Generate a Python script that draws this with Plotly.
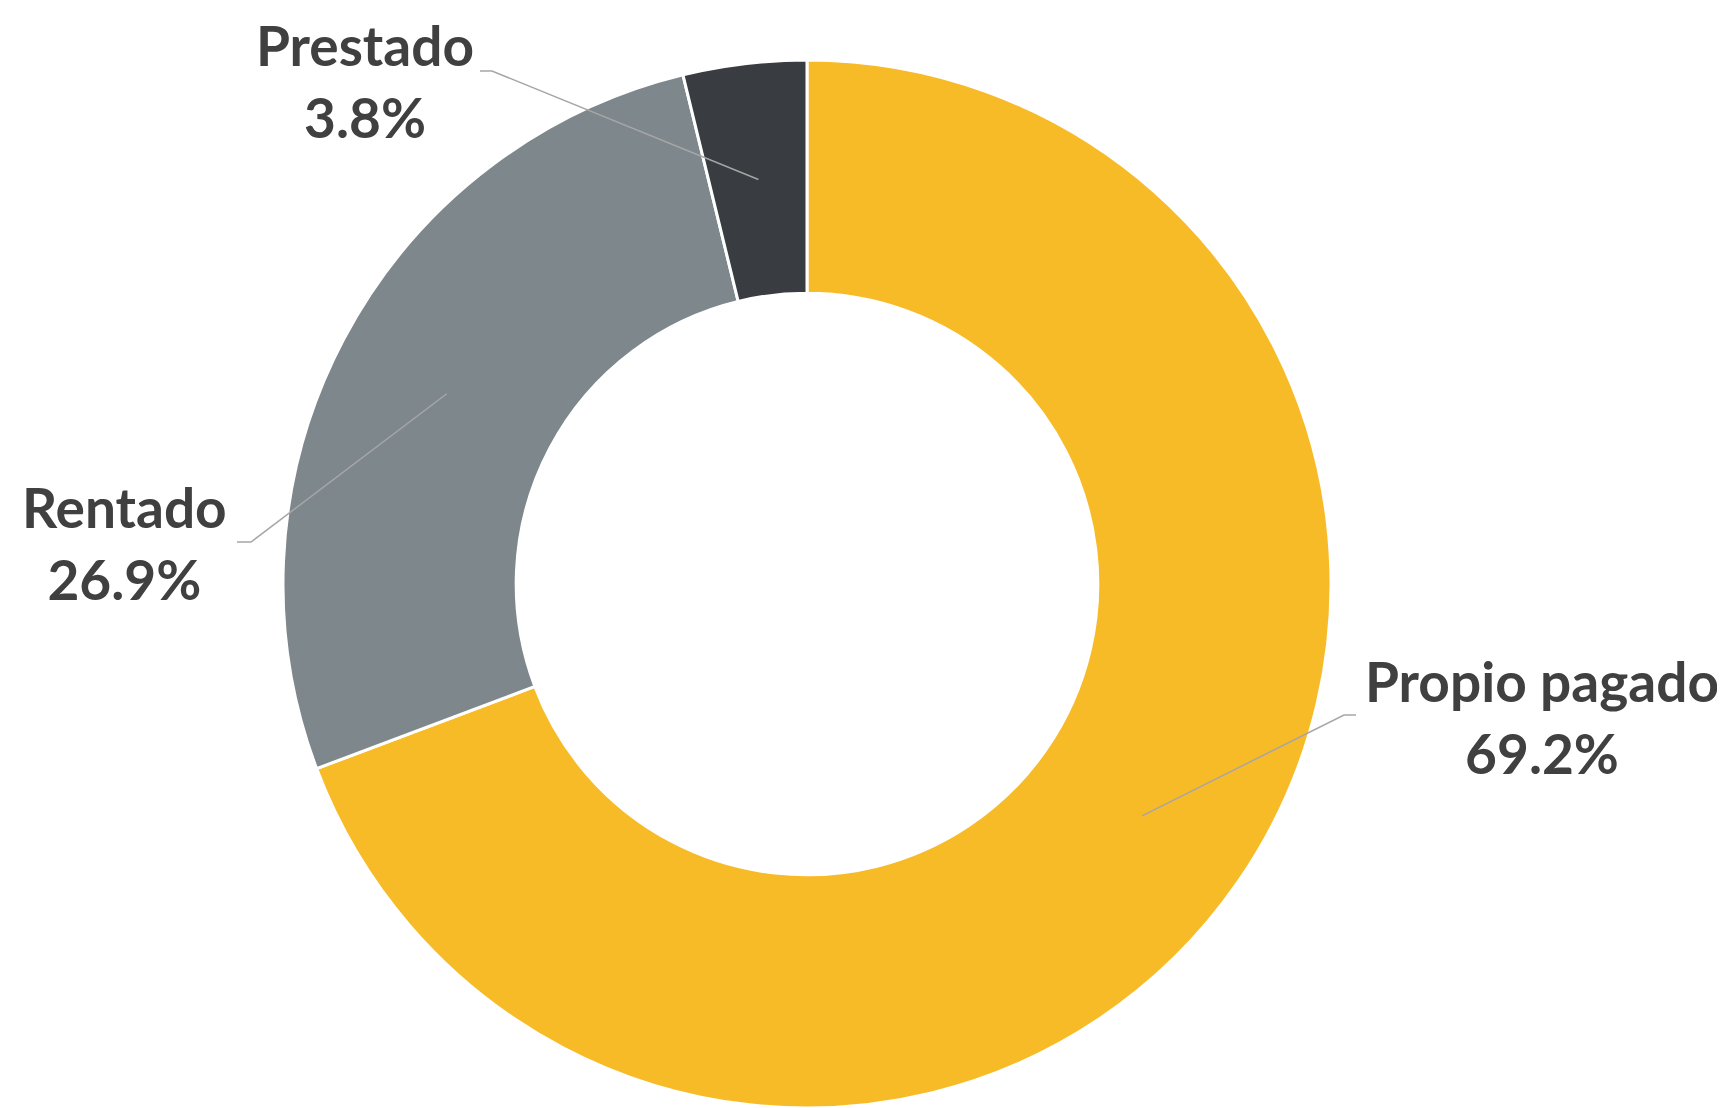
import math
import plotly.graph_objects as go

# data
labels = ['Propio pagado', 'Rentado', 'Prestado']
shares = [69.2, 26.9, 3.8]
colors = ['#F8BB28', '#7E878C', '#393C40']

# label placement (pixels in the figure): text centre, elbow, tail end
label_pos = [
    {'text': (1534, 709), 'elbow': (1336, 707), 'end': (1348, 707)},
    {'text': (116, 535), 'elbow': (243, 534), 'end': (229, 534)},
    {'text': (357, 73), 'elbow': (484, 63), 'end': (472, 63)},
]

W, H = 1725, 1108
# ring centre and outer radius in pixels
CX, CY, R = 799, 576, 524
dom_x = [(CX - R) / W, (CX + R) / W]
dom_y = [1 - (CY + R) / H, 1 - (CY - R) / H]
hole = 0.555

fig = go.Figure(go.Pie(
    labels=labels,
    values=shares,
    sort=False,
    direction='clockwise',
    rotation=0,
    hole=hole,
    textinfo='none',
    hoverinfo='label+value',
    marker=dict(colors=colors, line=dict(color='white', width=3)),
    domain=dict(x=dom_x, y=dom_y),
))

# hook leader lines onto the middle of each slice
r_mid = R * (1 + hole) / 2
total = sum(shares)
cum = 0
for lab, val, pos in zip(labels, shares, label_pos):
    mid = (cum + val / 2) / total * 2 * math.pi
    cum += val
    sx = CX + r_mid * math.sin(mid)
    sy = CY - r_mid * math.cos(mid)
    pts = [(sx, sy), pos['elbow'], pos['end']]
    path = 'M ' + ' L '.join(f'{x / W:.5f},{1 - y / H:.5f}' for x, y in pts)
    fig.add_shape(type='path', path=path, xref='paper', yref='paper',
                  line=dict(color='#A6A6A6', width=1.5))
    tx, ty = pos['text']
    fig.add_annotation(
        x=tx / W, y=1 - ty / H, xref='paper', yref='paper',
        xanchor='center', yanchor='middle', showarrow=False,
        text=f'<b>{lab}</b><br><b>{val:.1f}%</b>',
        font=dict(family='Lato', size=55, color='#404040'),
        align='center',
    )

fig.update_layout(
    width=W, height=H,
    margin=dict(l=0, r=0, t=0, b=0),
    paper_bgcolor='white',
    plot_bgcolor='white',
    showlegend=False,
)

fig.write_html('out.html')
